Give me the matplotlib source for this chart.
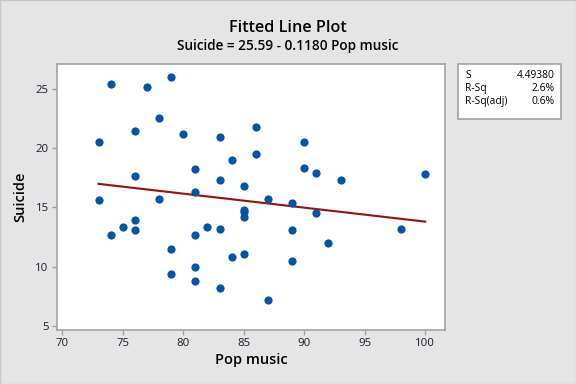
import matplotlib
matplotlib.use("Agg")
import matplotlib.pyplot as plt
import numpy as np

plt.rcParams['font.family'] = ['Open Sans', 'DejaVu Sans']

pop_music = [73, 74, 77, 79, 78, 76, 80, 83, 84, 81, 76, 83, 85, 81, 73, 78,
             86, 90, 86, 90, 91, 93, 100, 87, 89, 85, 85, 85,
             74, 75, 76, 76, 79, 79, 81, 82, 83, 81, 81, 83, 84, 85,
             91, 89, 92, 89, 87, 98]
suicide = [20.5, 25.4, 25.1, 26.0, 22.5, 21.4, 21.2, 20.9, 19.0, 18.2, 17.6, 17.3, 16.8, 16.3, 15.6, 15.7,
           21.8, 20.5, 19.5, 18.3, 17.9, 17.3, 17.8, 15.7, 15.4, 14.8, 14.6, 14.2,
           12.7, 13.3, 13.9, 13.1, 11.5, 9.4, 12.7, 13.3, 13.2, 10.0, 8.8, 8.2, 10.8, 11.1,
           14.5, 13.1, 12.0, 10.5, 7.2, 13.2]
intercept = 25.59
slope = -0.1180
stat_labels = ["S", "R-Sq", "R-Sq(adj)"]
stat_values = ["4.49380", "2.6%", "0.6%"]
x_ticks = [70, 75, 80, 85, 90, 95, 100]
y_ticks = [5, 10, 15, 20, 25]

bg = '#E5E5E5'
fig = plt.figure(figsize=(6, 4), dpi=96, facecolor=bg)
ax = fig.add_axes([56.7/576, 1-330/384, (445-56.7)/576, (330-64.3)/384])
ax.set_facecolor('white')

ax.scatter(pop_music, suicide, s=38, color='#0454A4', zorder=3, linewidths=0)
xs = np.array([min(pop_music), max(pop_music)])
ax.plot(xs, intercept + slope * xs, color='#8E1717', lw=1.6, zorder=2)

ax.set_xlim(69.54, 101.63)
ax.set_ylim(4.66, 27.05)
ax.set_xticks(x_ticks)
ax.set_yticks(y_ticks)
for sp in ax.spines.values():
    sp.set_color('#A0A0A0')
    sp.set_linewidth(1.2)
ax.tick_params(direction='out', length=4, width=1, color='#A0A0A0',
               labelsize=8.5, labelcolor='#1a1a2a', pad=2)

ax.set_xlabel('Pop music', fontsize=11, fontweight='semibold', labelpad=3)
ax.set_ylabel('Suicide', fontsize=11, fontweight='semibold', labelpad=6)

fig.text(0.5, 1-32/384, 'Fitted Line Plot', ha='center', va='baseline',
         fontsize=12.2, fontweight='semibold')
fig.text(0.5, 1-50/384, 'Suicide = 25.59 - 0.1180 Pop music', ha='center', va='baseline',
         fontsize=10.2, fontweight='semibold')

# stats box
bx0, by0, bx1, by1 = 458.3, 64.3, 560.7, 119.3
rect = plt.Rectangle((bx0/576, 1-by1/384), (bx1-bx0)/576, (by1-by0)/384,
                     transform=fig.transFigure, facecolor='white', edgecolor='#A0A0A0', lw=1.2)
fig.patches.append(rect)
row_y = [75, 88.5, 101.7]
for lab, val, yy in zip(stat_labels, stat_values, row_y):
    fig.text(465/576, 1-yy/384, lab, ha='left', va='center', fontsize=7.7)
    fig.text(555/576, 1-yy/384, val, ha='right', va='center', fontsize=7.7)

# outer border
fig.patches.append(plt.Rectangle((0, 0), 1, 1, transform=fig.transFigure,
                                 facecolor='none', edgecolor='#C8C8C8', lw=1))

fig.savefig('out.png', dpi=96, facecolor=bg)
